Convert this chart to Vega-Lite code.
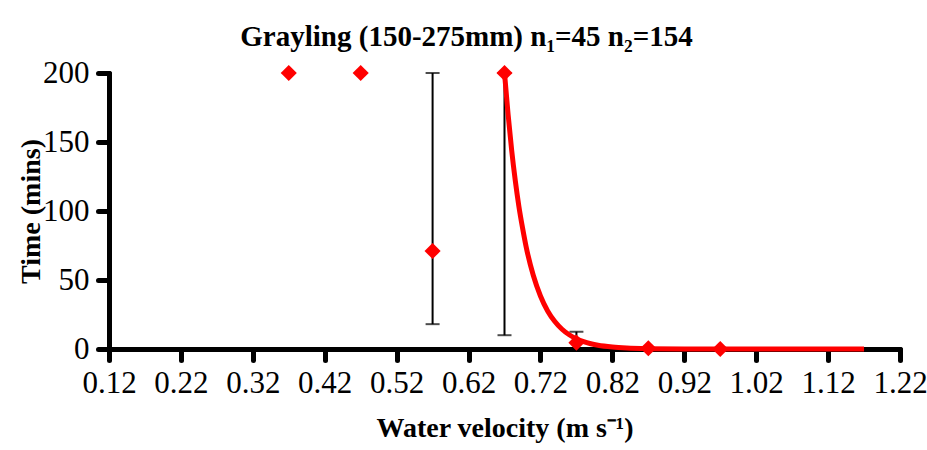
{
  "$schema": "https://vega.github.io/schema/vega-lite/v6.json",
  "autosize": "none",
  "width": 791,
  "height": 276,
  "padding": {"left": 109, "top": 73, "right": 27, "bottom": 101},
  "background": "white",
  "config": {
    "view": {"stroke": null},
    "font": "Liberation Serif"
  },
  "title": {
    "text": "Grayling (150-275mm) n₁=45 n₂=154",
    "font": "Liberation Serif",
    "fontSize": 29,
    "fontWeight": "bold",
    "color": "black",
    "anchor": "middle",
    "frame": "group",
    "baseline": "alphabetic",
    "dx": -38,
    "offset": -18
  },
  "datasets": {
    "points": [
      {"v": 0.37, "t": 200},
      {"v": 0.47, "t": 200},
      {"v": 0.57, "t": 71},
      {"v": 0.67, "t": 200},
      {"v": 0.77, "t": 4.6},
      {"v": 0.87, "t": 0.5},
      {"v": 0.97, "t": 0}
    ],
    "errors": [
      {"v": 0.57, "lo": 18, "hi": 200},
      {"v": 0.67, "lo": 10, "hi": 200},
      {"v": 0.77, "lo": 0, "hi": 12.5}
    ],
    "curve": [
      {"v": 0.67, "t": 200},
      {"v": 0.675, "t": 170},
      {"v": 0.68, "t": 143.8},
      {"v": 0.685, "t": 122},
      {"v": 0.69, "t": 103.4},
      {"v": 0.695, "t": 88},
      {"v": 0.70, "t": 74.3},
      {"v": 0.71, "t": 53.4},
      {"v": 0.72, "t": 38.4},
      {"v": 0.73, "t": 27.6},
      {"v": 0.74, "t": 19.9},
      {"v": 0.75, "t": 14.3},
      {"v": 0.76, "t": 10.3},
      {"v": 0.77, "t": 7.4},
      {"v": 0.78, "t": 5.3},
      {"v": 0.79, "t": 3.8},
      {"v": 0.80, "t": 2.7},
      {"v": 0.82, "t": 1.4},
      {"v": 0.84, "t": 0.7},
      {"v": 0.87, "t": 0.27},
      {"v": 0.92, "t": 0.05},
      {"v": 0.97, "t": 0.01},
      {"v": 1.07, "t": 0},
      {"v": 1.17, "t": 0}
    ]
  },
  "encoding": {
    "x": {
      "field": "v",
      "type": "quantitative",
      "scale": {"domain": [0.12, 1.22], "nice": false, "zero": false},
      "axis": {
        "title": "Water velocity (m s⁻¹)",
        "values": [0.12, 0.22, 0.32, 0.42, 0.52, 0.62, 0.72, 0.82, 0.92, 1.02, 1.12, 1.22],
        "format": ".2f",
        "grid": false,
        "domainColor": "black",
        "domainWidth": 5,
        "domainCap": "round",
        "tickColor": "black",
        "tickWidth": 5,
        "tickSize": 11,
        "tickCap": "round",
        "labelFont": "Liberation Serif",
        "labelFontSize": 31,
        "labelColor": "black",
        "labelPadding": 8,
        "labelFlush": false,
        "labelOverlap": false,
        "titleFont": "Liberation Serif",
        "titleFontSize": 28,
        "titleFontWeight": "bold",
        "titleColor": "black",
        "titlePadding": 16
      }
    }
  },
  "layer": [
    {
      "data": {"name": "errors"},
      "mark": {"type": "rule", "color": "black", "strokeWidth": 2},
      "encoding": {
        "y": {"field": "lo", "type": "quantitative"},
        "y2": {"field": "hi"}
      }
    },
    {
      "data": {"name": "errors"},
      "mark": {"type": "tick", "color": "black", "thickness": 2, "size": 14, "orient": "horizontal"},
      "encoding": {"y": {"field": "hi", "type": "quantitative"}}
    },
    {
      "data": {"name": "errors"},
      "mark": {"type": "tick", "color": "black", "thickness": 2, "size": 14, "orient": "horizontal"},
      "encoding": {"y": {"field": "lo", "type": "quantitative"}}
    },
    {
      "data": {"name": "curve"},
      "mark": {"type": "line", "color": "#ff0000", "strokeWidth": 5, "interpolate": "monotone"},
      "encoding": {"y": {"field": "t", "type": "quantitative"}}
    },
    {
      "data": {"name": "points"},
      "mark": {"type": "point", "shape": "diamond", "filled": true, "color": "#ff0000", "opacity": 1, "size": 260},
      "encoding": {
        "y": {
          "field": "t",
          "type": "quantitative",
          "scale": {"domain": [0, 200], "nice": false},
          "axis": {
            "title": "Time (mins)",
            "values": [0, 50, 100, 150, 200],
            "grid": false,
            "domainColor": "black",
            "domainWidth": 5,
            "domainCap": "round",
            "tickColor": "black",
            "tickWidth": 5,
            "tickSize": 11,
            "tickCap": "round",
            "labelFont": "Liberation Serif",
            "labelFontSize": 31,
            "labelColor": "black",
            "labelPadding": 9,
            "labelOverlap": false,
            "titleFont": "Liberation Serif",
            "titleFontSize": 28,
            "titleFontWeight": "bold",
            "titleColor": "black",
            "titlePadding": -3
          }
        }
      }
    }
  ]
}
